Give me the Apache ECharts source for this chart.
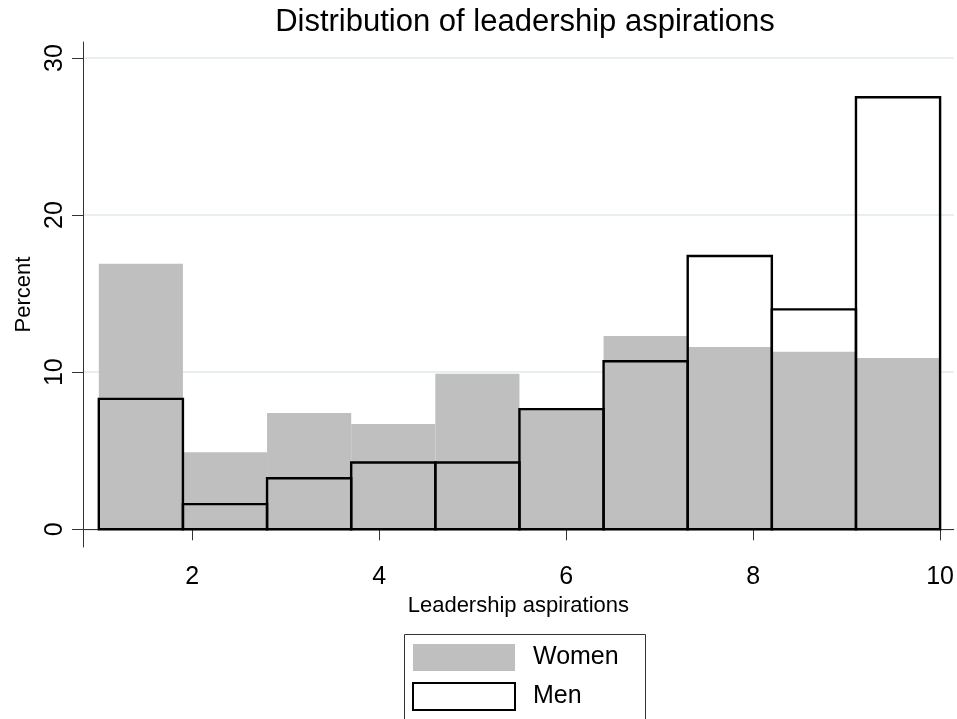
<!DOCTYPE html>
<html>
<head>
<meta charset="utf-8">
<script src="https://cdn.jsdelivr.net/npm/echarts@6/dist/echarts.min.js"></script>
<style>
  html, body { margin: 0; padding: 0; background: #fff; }
  #chart { width: 957px; height: 719px; }
</style>
</head>
<body>
<div id="chart"></div>
<script>
// Bin edges of the histogram (leadership aspirations scale)
const binEdges = [1, 1.9, 2.8, 3.7, 4.6, 5.5, 6.4, 7.3, 8.2, 9.1, 10];
// Percent per bin
const womenPct = [16.9, 4.9, 7.4, 6.7, 9.9, 7.6, 12.3, 11.6, 11.3, 10.9];
const menPct   = [8.3, 1.6, 3.25, 4.25, 4.25, 7.65, 10.7, 17.4, 14.0, 27.5];
// Tick labels
const xTicks = [2, 4, 6, 8, 10];
const yTicks = [0, 10, 20, 30];
const seriesNames = ['Women', 'Men'];

const FONT = 'Liberation Sans, Arial, sans-serif';

function toBins(vals) {
  return vals.map((v, i) => [binEdges[i], binEdges[i + 1], v]);
}

function makeRender(styleFn) {
  return function (params, api) {
    const x0 = api.value(0), x1 = api.value(1), y = api.value(2);
    const pTop = api.coord([x0, y]);
    const pBot = api.coord([x1, 0]);
    return {
      type: 'rect',
      shape: { x: pTop[0], y: pTop[1], width: pBot[0] - pTop[0], height: pBot[1] - pTop[1] },
      style: styleFn()
    };
  };
}

const chart = echarts.init(document.getElementById('chart'), null, { renderer: 'canvas' });

chart.setOption({
  animation: false,
  backgroundColor: '#fff',
  textStyle: { fontFamily: FONT },
  title: {
    text: 'Distribution of leadership aspirations',
    left: 520,
    textAlign: 'center',
    top: 2,
    textStyle: { fontFamily: FONT, fontSize: 31, fontWeight: 'normal', color: '#000' }
  },
  graphic: [
    {
      type: 'rect',
      left: 402,
      top: 632,
      shape: { width: 241, height: 120 },
      style: { fill: 'none', stroke: '#333', lineWidth: 1 },
      z: 10
    }
  ],
  legend: {
    orient: 'vertical',
    left: 402,
    top: 632,
    padding: [12, 25, 0, 10],
    itemWidth: 102,
    itemHeight: 27,
    itemGap: 11,
    borderWidth: 0,
    textStyle: { fontFamily: FONT, fontSize: 25, color: '#000', padding: [0, 0, 0, 13] },
    data: [
      { name: seriesNames[0], icon: 'rect', itemStyle: { color: '#bfbfbf', borderWidth: 0 } },
      { name: seriesNames[1], icon: 'rect', itemStyle: { color: '#fff', borderColor: '#000', borderWidth: 2 } }
    ]
  },
  grid: { left: 83, right: 0, top: 42, bottom: 172 },
  xAxis: {
    type: 'value',
    min: 0.831,
    max: 10.146,
    name: 'Leadership aspirations',
    nameLocation: 'middle',
    nameGap: 46,
    nameTextStyle: { fontFamily: FONT, fontSize: 22, color: '#000' },
    axisLine: { show: true, lineStyle: { color: '#333', width: 1 } },
    axisTick: { show: true, customValues: xTicks, length: 11, lineStyle: { color: '#333', width: 1 } },
    axisLabel: { customValues: xTicks, fontSize: 25, color: '#000', margin: 18, fontFamily: FONT },
    splitLine: { show: false }
  },
  yAxis: {
    type: 'value',
    min: -1.127,
    max: 31.02,
    name: 'Percent',
    nameLocation: 'middle',
    nameGap: 48,
    nameTextStyle: { fontFamily: FONT, fontSize: 22, color: '#000' },
    axisLine: { show: true, lineStyle: { color: '#333', width: 1 } },
    axisTick: { show: true, customValues: yTicks, length: 11, lineStyle: { color: '#333', width: 1 } },
    axisLabel: { customValues: yTicks, rotate: 90, fontSize: 25, color: '#000', margin: 15, fontFamily: FONT },
    splitLine: { show: true, lineStyle: { color: '#dfeaef', width: 1.5 } }
  },
  series: [
    {
      name: seriesNames[0],
      type: 'custom',
      renderItem: makeRender(() => ({ fill: '#bfbfbf' })),
      encode: { x: [0, 1], y: 2 },
      itemStyle: { color: '#bfbfbf' },
      data: toBins(womenPct),
      z: 2
    },
    {
      name: seriesNames[1],
      type: 'custom',
      renderItem: makeRender(() => ({ fill: 'none', stroke: '#000', lineWidth: 2.4 })),
      encode: { x: [0, 1], y: 2 },
      itemStyle: { color: '#fff', borderColor: '#000' },
      data: toBins(menPct),
      z: 3
    }
  ]
});
</script>
</body>
</html>
